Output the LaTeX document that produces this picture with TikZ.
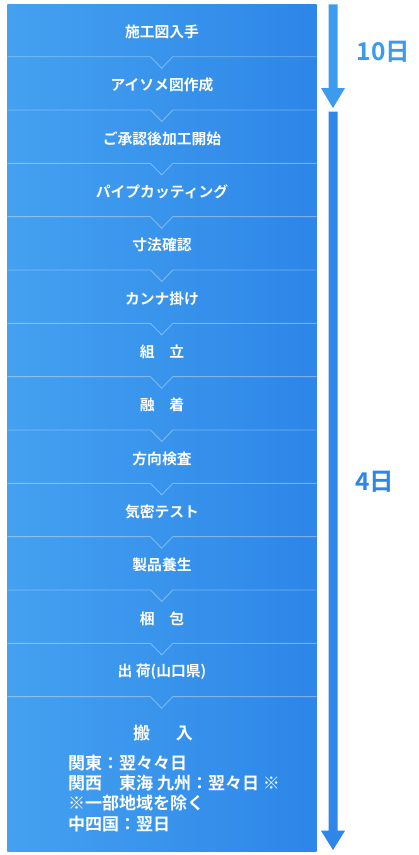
\documentclass[tikz,border=0pt]{standalone}
\usepackage{fontspec}
\setmainfont{Noto Sans CJK JP}[BoldFont={Noto Sans CJK JP Bold}]
\newfontfamily\jpb{Noto Sans CJK JP Bold}
\definecolor{gradL}{RGB}{68,161,240}
\definecolor{gradR}{RGB}{45,134,232}
\definecolor{arrowA}{RGB}{61,155,238}
\definecolor{arrowB}{RGB}{46,134,232}
\definecolor{daysA}{RGB}{58,154,238}
\definecolor{daysB}{RGB}{46,134,232}
\tikzset{
  stepbox/.style={text=white, font=\jpb\fontsize{14.8}{16}\selectfont, inner sep=0pt},
  notebox/.style={text=white, font=\jpb\fontsize{17}{19}\selectfont, inner sep=0pt, anchor=west},
  sepline/.style={draw=white, draw opacity=0.35, line width=0.9pt},
  dayslabel/.style={font=\jpb\fontsize{24.5}{26}\selectfont, inner sep=0pt},
}
\begin{document}
\begin{tikzpicture}[x=1pt,y=-1pt]
\useasboundingbox (0,0) rectangle (419,855);
\shade[left color=gradL, right color=gradR] (7.3,4.3) rectangle (316.7,851);
% separators
\foreach \k in {0,...,12}{
  \pgfmathsetmacro{\yy}{56.7+53.33*\k}
  \draw[sepline] (7.3,\yy) -- (150.5,\yy) -- (161.7,\yy+11.5) -- (172.8,\yy) -- (316.7,\yy);
}
% steps
\node[stepbox] (s0) at (162,32) {施工図入手};
\node[stepbox] (s1) at (162,85.3) {アイソメ図作成};
\node[stepbox] (s2) at (162,138.7) {ご承認後加工開始};
\node[stepbox] (s3) at (162,192) {パイプカッティング};
\node[stepbox] (s4) at (162,245.3) {寸法確認};
\node[stepbox] (s5) at (162,298.7) {カンナ掛け};
\node[stepbox] (s6) at (162,352) {組　立};
\node[stepbox] (s7) at (162,405.3) {融　着};
\node[stepbox] (s8) at (162,458.7) {方向検査};
\node[stepbox] (s9) at (162,512) {気密テスト};
\node[stepbox] (s10) at (162,565.3) {製品養生};
\node[stepbox] (s11) at (162,618.7) {梱　包};
\node[stepbox] (s12) at (162,672) {出 荷(山口県)};
\node[notebox, anchor=center] (s13) at (163,733) {搬\hspace{9pt}　入};
\node[notebox] (n1) at (68,762.7) {関東：翌々々日};
\node[notebox] (n2) at (68,783) {関西　東海 九州：翌々日 ※};
\node[notebox] (n3) at (68,803.3) {※一部地域を除く};
\node[notebox] (n4) at (68,824) {中四国：翌日};
% arrows
\fill[arrowA] (328.5,4.3) -- (337.5,4.3) -- (337.5,88) -- (345,88) -- (333,108) -- (321,88) -- (328.5,88) -- cycle;
\fill[arrowB] (328.5,111.7) -- (337.5,111.7) -- (337.5,830.7) -- (345,830.7) -- (333,850) -- (321,830.7) -- (328.5,830.7) -- cycle;
\node[dayslabel, text=daysA, anchor=west] (d1) at (356.5,51.5) {10日};
\node[dayslabel, text=daysB, anchor=west] (d2) at (355,481.5) {4日};
\end{tikzpicture}
\end{document}
